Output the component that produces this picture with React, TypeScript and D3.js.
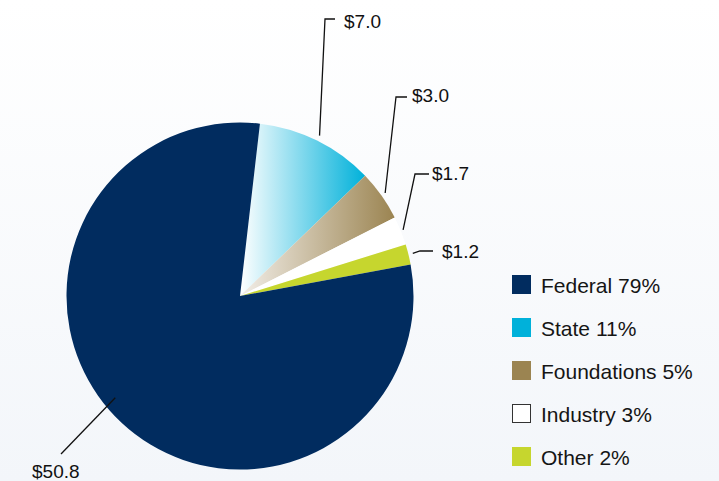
import React from 'react'
import * as d3 from 'd3'

// funding sources, billions of dollars
const categories = ['State', 'Foundations', 'Industry', 'Other', 'Federal']
const amounts = [7.0, 3.0, 1.7, 1.2, 50.8]
const amountLabels = ['$7.0', '$3.0', '$1.7', '$1.2', '$50.8']

const legendNames = ['Federal', 'State', 'Foundations', 'Industry', 'Other']
const legendShares = ['79%', '11%', '5%', '3%', '2%']

const colors: Record<string, string> = {
  Federal: '#012c5f',
  State: '#00b1da',
  Foundations: '#9b8451',
  Industry: '#ffffff',
  Other: '#c6d62e',
}

const gradStart: Record<string, string> = {
  State: '#ffffff',
  Foundations: '#f2eee8',
}

// leader line layout: radius of the anchor, angle shift, elbow and label spots
const leaders = [
  { r: 179, shift: 0, elbow: [325, 19], end: [335, 19], text: [344, 28] },
  { r: 178, shift: 0, elbow: [396, 97], end: [407, 97], text: [412, 102] },
  { r: 176, shift: 0, elbow: [415, 174], end: [429, 174], text: [432, 180] },
  { r: 178, shift: 0, elbow: [420, 251], end: [433, 251], text: [442, 258] },
  { r: 161, shift: 0.135, elbow: [61, 454], end: [61, 454], text: [32, 478] },
]

const width = 719
const height = 481
const cx = 240
const cy = 296
const radius = 173.5
const startAngle = (6.6 * Math.PI) / 180

const App = () => {
  const pie = d3
    .pie<number>()
    .sort(null)
    .startAngle(startAngle)
    .endAngle(startAngle + Math.PI * 2)
  const arcs = pie(amounts)
  const arc = d3.arc<d3.PieArcDatum<number>>().innerRadius(0).outerRadius(radius)

  const legendY = d3
    .scalePoint<string>()
    .domain(legendNames)
    .range([284.5, 456.5])

  const font = '"Liberation Sans", Arial, sans-serif'

  return (
    <svg
      width={width}
      height={height}
      style={{ position: 'absolute', left: 0, top: 0, display: 'block' }}
    >
      <defs>
        <linearGradient id="bg" x1="0" y1="0" x2="0" y2="1">
          <stop offset="0" stopColor="#ffffff" />
          <stop offset="1" stopColor="#f3f6fa" />
        </linearGradient>
        {Object.keys(gradStart).map((k) => (
          <linearGradient key={k} id={'g-' + k} x1="0" y1="0" x2="1" y2="0">
            <stop offset="0" stopColor={gradStart[k]} />
            <stop offset="1" stopColor={colors[k]} />
          </linearGradient>
        ))}
      </defs>
      <rect width={width} height={height} fill="url(#bg)" />

      <g transform={`translate(${cx},${cy})`}>
        {arcs.map((a, i) => {
          const name = categories[i]
          const fill = gradStart[name] ? `url(#g-${name})` : colors[name]
          return <path key={name} d={arc(a) || ''} fill={fill} />
        })}
      </g>

      {arcs.map((a, i) => {
        const L = leaders[i]
        const mid = (a.startAngle + a.endAngle) / 2 + L.shift
        const x0 = cx + L.r * Math.sin(mid)
        const y0 = cy - L.r * Math.cos(mid)
        const pts: [number, number][] = [[x0, y0], L.elbow as [number, number], L.end as [number, number]]
        return (
          <g key={categories[i]}>
            <path d={d3.line()(pts) || ''} fill="none" stroke="#111" strokeWidth={1.3} />
            <text x={L.text[0]} y={L.text[1]} fontFamily={font} fontSize={19} fill="#111">
              {amountLabels[i]}
            </text>
          </g>
        )
      })}

      <g>
        {legendNames.map((n, i) => {
          const y = legendY(n) || 0
          return (
            <g key={n}>
              <rect
                x={n === 'Industry' ? 512.5 : 512}
                y={n === 'Industry' ? y - 9 : y - 9.5}
                width={n === 'Industry' ? 18 : 19}
                height={n === 'Industry' ? 18 : 19}
                fill={colors[n]}
                stroke={n === 'Industry' ? '#333' : 'none'}
                strokeWidth={1}
              />
              <text x={541} y={y + 8} fontFamily={font} fontSize={21} fill="#151515">
                {n} {legendShares[i]}
              </text>
            </g>
          )
        })}
      </g>
    </svg>
  )
}

export default App
